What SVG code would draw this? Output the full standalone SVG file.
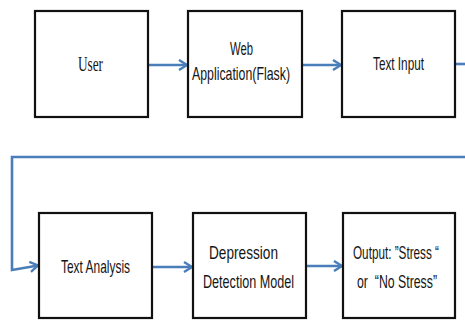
<svg xmlns="http://www.w3.org/2000/svg" width="465" height="320" viewBox="0 0 465 320">
  <defs>
    <style>
      .box { fill: #ffffff; stroke: #111111; stroke-width: 2.2; }
      .lbl { font-family: "Liberation Sans Narrow", "Liberation Sans", Arial, sans-serif; font-size: 19px; fill: #151515; white-space: pre; }
      .lbl.serif { font-family: "Liberation Serif", "Times New Roman", serif; font-size: 21px; }
      .link { fill: none; stroke: #4a7ebb; stroke-width: 2.6; }
    </style>
    <marker id="chev" viewBox="0 0 10 12" refX="9" refY="6" markerWidth="10" markerHeight="12" markerUnits="userSpaceOnUse" orient="auto">
      <path d="M1,1 L9,6 L1,11" fill="none" stroke="#4a7ebb" stroke-width="2.4" stroke-linejoin="miter"/>
    </marker>
  </defs>
  <rect width="465" height="320" fill="#ffffff"/>

  <!-- connectors -->
  <g id="connectors">
    <line class="link" x1="149" y1="65" x2="187" y2="65" marker-end="url(#chev)"/>
    <line class="link" x1="303" y1="65" x2="341" y2="65" marker-end="url(#chev)"/>
    <polyline class="link" points="456,64 465,64"/>
    <polyline class="link" points="465,157 12,157 12,270 38,265.5" marker-end="url(#chev)"/>
    <line class="link" x1="153" y1="267" x2="192" y2="267" marker-end="url(#chev)"/>
    <line class="link" x1="307" y1="266" x2="342" y2="266" marker-end="url(#chev)"/>
  </g>

  <!-- top row -->
  <g id="user">
    <rect class="box" x="35" y="11" width="113" height="106"/>
    <text class="lbl serif" x="78" y="71" textLength="25" lengthAdjust="spacingAndGlyphs">User</text>
  </g>
  <g id="web-app">
    <rect class="box" x="188" y="11" width="114" height="106"/>
    <text class="lbl" x="230" y="55" textLength="23" lengthAdjust="spacingAndGlyphs">Web</text>
    <text class="lbl" x="192" y="80" textLength="98" lengthAdjust="spacingAndGlyphs">Application(Flask)</text>
  </g>
  <g id="text-input">
    <rect class="box" x="342" y="11" width="113" height="106"/>
    <text class="lbl" x="373" y="70" textLength="51" lengthAdjust="spacingAndGlyphs">Text Input</text>
  </g>

  <!-- bottom row -->
  <g id="text-analysis">
    <rect class="box" x="39" y="213" width="113" height="105"/>
    <text class="lbl" x="61" y="273" textLength="69" lengthAdjust="spacingAndGlyphs">Text Analysis</text>
  </g>
  <g id="detection-model">
    <rect class="box" x="193" y="213" width="113" height="105"/>
    <text class="lbl" x="209" y="259" textLength="69" lengthAdjust="spacingAndGlyphs">Depression</text>
    <text class="lbl" x="203" y="288" textLength="91" lengthAdjust="spacingAndGlyphs">Detection Model</text>
  </g>
  <g id="output">
    <rect class="box" x="343" y="213" width="112" height="105"/>
    <text class="lbl" x="353" y="259" textLength="86" lengthAdjust="spacingAndGlyphs">Output: ”Stress “</text>
    <text class="lbl" x="357" y="288" textLength="80" lengthAdjust="spacingAndGlyphs">or  “No Stress”</text>
  </g>
</svg>
